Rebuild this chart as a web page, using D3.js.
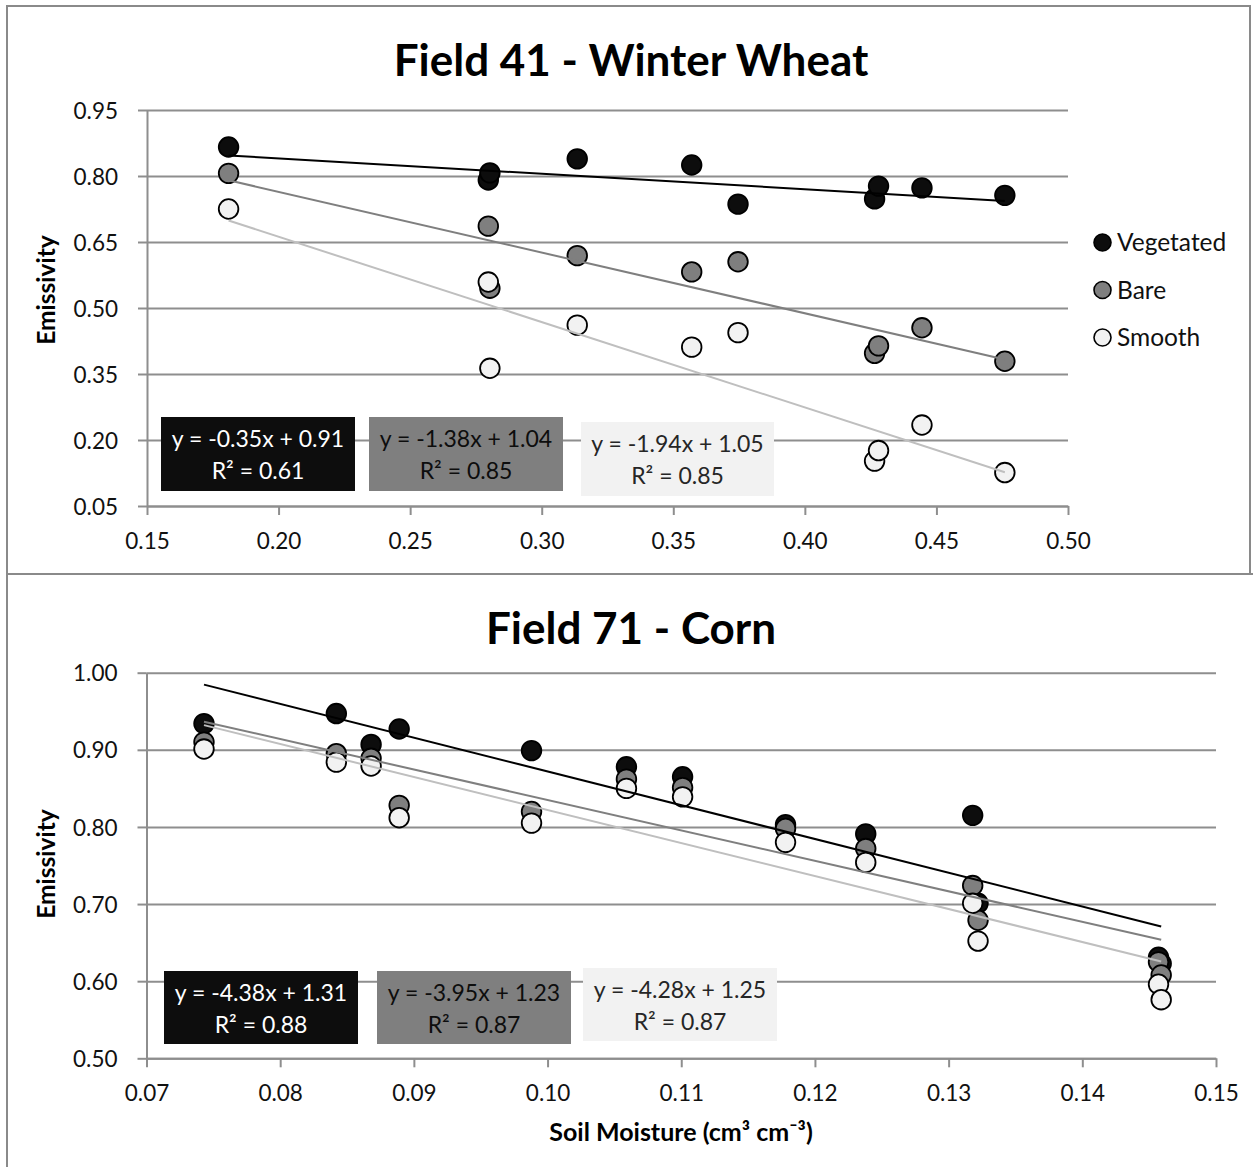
<!DOCTYPE html>
<html>
<head>
<meta charset="utf-8">
<script src="https://cdn.jsdelivr.net/npm/d3@7"></script>
<style>
  body { margin: 0; background: #fff; }
  svg { display: block; }
  text { font-family: Lato, "Noto Sans", sans-serif; }
</style>
</head>
<body>
<svg id="chart" width="1253" height="1167"></svg>
<script>
// ---- Field 41 – Winter Wheat ----
const wheatMoisture   = [0.181, 0.2797, 0.2803, 0.3135, 0.357, 0.3746, 0.4265, 0.428, 0.4445, 0.476];
const wheatVegetated  = [0.866, 0.791, 0.807, 0.839, 0.825, 0.736, 0.748, 0.777, 0.773, 0.756];
const wheatBare       = [0.806, 0.686, 0.545, 0.619, 0.582, 0.605, 0.397, 0.414, 0.455, 0.379];
const wheatSmooth     = [0.725, 0.559, 0.363, 0.461, 0.411, 0.444, 0.152, 0.176, 0.234, 0.126];
const wheatSlopes     = [-0.35, -1.38, -1.94];
const wheatIntercepts = [0.91, 1.04, 1.05];
const wheatR2         = [0.61, 0.85, 0.85];
const wheatXTicks     = [0.15, 0.20, 0.25, 0.30, 0.35, 0.40, 0.45, 0.50];
const wheatYTicks     = [0.05, 0.20, 0.35, 0.50, 0.65, 0.80, 0.95];

// ---- Field 71 – Corn ----
const cornMoisture    = [0.0743, 0.0842, 0.0868, 0.0889, 0.0988, 0.1059, 0.1101, 0.1178, 0.1238, 0.1318, 0.1322, 0.1457, 0.1459];
const cornVegetated   = [0.934, 0.947, 0.907, 0.927, 0.899, 0.878, 0.865, 0.803, 0.791, 0.815, 0.701, 0.631, 0.623];
const cornBare        = [0.910, 0.895, 0.889, 0.828, 0.820, 0.862, 0.851, 0.798, 0.772, 0.724, 0.679, 0.625, 0.608];
const cornSmooth      = [0.901, 0.884, 0.879, 0.812, 0.805, 0.850, 0.839, 0.780, 0.754, 0.701, 0.652, 0.596, 0.576];
const cornSlopes      = [-4.38, -3.95, -4.28];
const cornIntercepts  = [1.31, 1.23, 1.25];
const cornR2          = [0.88, 0.87, 0.87];
const cornXTicks      = [0.07, 0.08, 0.09, 0.10, 0.11, 0.12, 0.13, 0.14, 0.15];
const cornYTicks      = [0.50, 0.60, 0.70, 0.80, 0.90, 1.00];

const seriesNames = ["Vegetated", "Bare", "Smooth"];

// series styling: marker fill, trendline colour, equation box fill / text colour
const markerFill = ["#0d0d0d", "#7f7f7f", "#f2f2f2"];
const lineColor  = ["#000000", "#7f7f7f", "#bfbfbf"];
const boxFill    = ["#0d0d0d", "#7f7f7f", "#f2f2f2"];
const boxText    = ["#ffffff", "#0d0d0d", "#262626"];

const GRID = "#8e8e8e";
const TICK_FONT = 22.5;
const svg = d3.select("#chart");
// two decimals with a plain hyphen for negatives
const fmt2 = v => v.toFixed(2);

const panels = [
  {
    title: "Field 41 - Winter Wheat", titleY: 76,
    frame: { x: 7, y: 6, w: 1243, h: 568 },
    plot: { left: 147, right: 1068, top: 110, bottom: 506 },
    xDomain: [0.15, 0.50], yDomain: [0.05, 0.95],
    xTicks: wheatXTicks, yTicks: wheatYTicks,
    xs: wheatMoisture, ys: [wheatVegetated, wheatBare, wheatSmooth],
    slopes: wheatSlopes, intercepts: wheatIntercepts, r2: wheatR2,
    boxes: [ { x: 161, y: 417, w: 194, h: 74 }, { x: 369, y: 417, w: 194, h: 74 }, { x: 581, y: 422, w: 193, h: 74 } ],
    yTitleY: 290, legend: true, xTitle: null
  },
  {
    title: "Field 71 - Corn", titleY: 644,
    frame: { x: 7, y: 574, w: 1260, h: 600 },
    plot: { left: 146.5, right: 1216, top: 672.7, bottom: 1058.3 },
    xDomain: [0.07, 0.15], yDomain: [0.50, 1.00],
    xTicks: cornXTicks, yTicks: cornYTicks,
    xs: cornMoisture, ys: [cornVegetated, cornBare, cornSmooth],
    slopes: cornSlopes, intercepts: cornIntercepts, r2: cornR2,
    boxes: [ { x: 164, y: 971, w: 194, h: 73 }, { x: 377, y: 971, w: 194, h: 73 }, { x: 583, y: 968, w: 194, h: 73 } ],
    yTitleY: 864, legend: false, xTitle: "Soil Moisture (cm³ cm⁻³)"
  }
];

function drawPanel(p) {
  const g = svg.append("g");
  const { left, right, top, bottom } = p.plot;

  g.append("rect")
    .attr("x", p.frame.x).attr("y", p.frame.y)
    .attr("width", p.frame.w).attr("height", p.frame.h)
    .attr("fill", "#fff").attr("stroke", "#8a8a8a").attr("stroke-width", 2);

  const x = d3.scaleLinear().domain(p.xDomain).range([left, right]);
  const y = d3.scaleLinear().domain(p.yDomain).range([bottom, top]);

  // horizontal gridlines
  const grid = g.append("g")
    .attr("transform", `translate(${left},0)`)
    .call(d3.axisLeft(y).tickValues(p.yTicks).tickSize(-(right - left)).tickFormat(""));
  grid.select(".domain").remove();
  grid.selectAll("line").attr("stroke", GRID).attr("stroke-width", 2);

  // y axis
  const yAxis = g.append("g")
    .attr("transform", `translate(${left},0)`)
    .call(d3.axisLeft(y).tickValues(p.yTicks).tickSizeInner(9).tickSizeOuter(0).tickFormat(fmt2));
  yAxis.select(".domain").attr("stroke", GRID).attr("stroke-width", 2);
  yAxis.selectAll(".tick line").attr("stroke", GRID).attr("stroke-width", 2);
  yAxis.selectAll(".tick text")
    .attr("x", -29).attr("dy", "0.36em")
    .attr("font-family", "Lato, sans-serif").attr("font-size", TICK_FONT).attr("fill", "#111");

  // x axis
  const xAxis = g.append("g")
    .attr("transform", `translate(0,${bottom})`)
    .call(d3.axisBottom(x).tickValues(p.xTicks).tickSizeInner(9).tickSizeOuter(0).tickFormat(fmt2));
  xAxis.select(".domain").attr("stroke", GRID).attr("stroke-width", 2);
  xAxis.selectAll(".tick line").attr("stroke", GRID).attr("stroke-width", 2);
  xAxis.selectAll(".tick text")
    .attr("y", 43).attr("dy", null)
    .attr("font-family", "Lato, sans-serif").attr("font-size", TICK_FONT).attr("fill", "#111");

  // markers, one series after another
  p.ys.forEach((vals, si) => {
    g.append("g").selectAll("circle")
      .data(vals.map((v, i) => ({ mx: p.xs[i], my: v })))
      .join("circle")
      .attr("cx", d => x(d.mx)).attr("cy", d => y(d.my)).attr("r", 9.8)
      .attr("fill", markerFill[si]).attr("stroke", "#000").attr("stroke-width", 1.8);
  });

  // linear trendlines from the fitted equations
  const [xmin, xmax] = d3.extent(p.xs);
  p.slopes.forEach((m, si) => {
    const b = p.intercepts[si];
    g.append("line")
      .attr("x1", x(xmin)).attr("y1", y(m * xmin + b))
      .attr("x2", x(xmax)).attr("y2", y(m * xmax + b))
      .attr("stroke", lineColor[si]).attr("stroke-width", 2);
  });

  // equation labels
  p.boxes.forEach((bx, si) => {
    const bg = g.append("g");
    bg.append("rect").attr("x", bx.x).attr("y", bx.y).attr("width", bx.w).attr("height", bx.h)
      .attr("fill", boxFill[si]);
    const cx = bx.x + bx.w / 2;
    bg.append("text").attr("x", cx).attr("y", bx.y + 30).attr("text-anchor", "middle")
      .attr("font-size", 23).attr("fill", boxText[si])
      .text(`y = ${fmt2(p.slopes[si])}x + ${fmt2(p.intercepts[si])}`);
    bg.append("text").attr("x", cx).attr("y", bx.y + 62).attr("text-anchor", "middle")
      .attr("font-size", 23).attr("fill", boxText[si])
      .text(`R² = ${fmt2(p.r2[si])}`);
  });

  // titles
  g.append("text").attr("x", 631).attr("y", p.titleY).attr("text-anchor", "middle")
    .attr("font-size", 44).attr("font-weight", "bold").attr("fill", "#000").text(p.title);

  g.append("text")
    .attr("transform", `translate(55,${p.yTitleY}) rotate(-90)`)
    .attr("text-anchor", "middle").attr("font-size", 24.5).attr("font-weight", "bold").attr("fill", "#000")
    .text("Emissivity");

  if (p.xTitle) {
    g.append("text").attr("x", 681).attr("y", 1141).attr("text-anchor", "middle")
      .attr("font-size", 25).attr("font-weight", "bold").attr("fill", "#000").text(p.xTitle);
  }

  if (p.legend) {
    const lg = g.append("g");
    seriesNames.forEach((name, si) => {
      const ly = 242.5 + si * 47.5;
      lg.append("circle").attr("cx", 1102.5).attr("cy", ly).attr("r", 8.5)
        .attr("fill", markerFill[si]).attr("stroke", "#000").attr("stroke-width", 1.6);
      lg.append("text").attr("x", 1117).attr("y", ly + 8.5).attr("font-size", 24.5).attr("fill", "#111")
        .text(name);
    });
  }
}

panels.forEach(drawPanel);
</script>
</body>
</html>
